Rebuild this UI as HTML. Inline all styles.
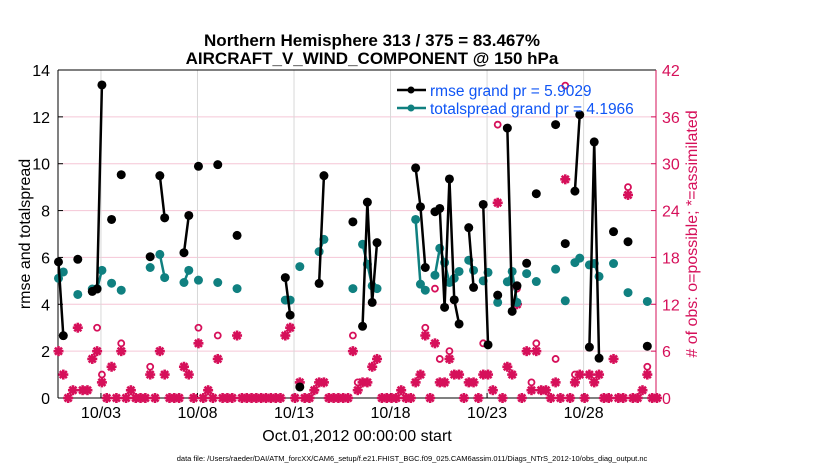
<!DOCTYPE html>
<html><head><meta charset="utf-8">
<style>
body{margin:0;background:#fff;}
svg text{font-family:"Liberation Sans",Arial,sans-serif;}
</style></head>
<body>
<svg id="chart" width="830" height="470" xmlns="http://www.w3.org/2000/svg">
<text x="372" y="46" font-size="17" font-weight="bold" text-anchor="middle">Northern Hemisphere 313 / 375 = 83.467%</text>
<text x="372" y="64" font-size="17" font-weight="bold" text-anchor="middle">AIRCRAFT_V_WIND_COMPONENT @ 150 hPa</text>
<g id="grid"></g>
<g id="axes"></g>
<g id="marks"></g>
<text transform="translate(30,234) rotate(-90)" font-size="16" text-anchor="middle">rmse and totalspread</text>
<text transform="translate(697,234) rotate(-90)" font-size="16" fill="#d6105a" text-anchor="middle"># of obs: o=possible; *=assimilated</text>
<text x="357" y="441" font-size="16" text-anchor="middle">Oct.01,2012 00:00:00 start</text>
<text x="412" y="461" font-size="7.5" text-anchor="middle">data file: /Users/raeder/DAI/ATM_forcXX/CAM6_setup/f.e21.FHIST_BGC.f09_025.CAM6assim.011/Diags_NTrS_2012-10/obs_diag_output.nc</text>
<g id="marksLegend">
<line x1="397" y1="90" x2="426" y2="90" stroke="#000" stroke-width="2.5"/>
<circle cx="411" cy="90" r="3.5" fill="#000"/>
<text x="430" y="96" font-size="15.5" fill="#0f55f5">rmse grand pr = 5.9029</text>
<line x1="397" y1="108" x2="426" y2="108" stroke="#108080" stroke-width="2.5"/>
<circle cx="411" cy="108" r="3.5" fill="#108080"/>
<text x="430" y="114" font-size="15.5" fill="#0f55f5">totalspread grand pr = 4.1966</text>
</g>
</svg>
<script>
const rmseIdx = [0,1,4,7,8,9,11,13,19,21,22,26,27,29,33,37,47,48,50,54,55,61,63,64,65,66,74,75,76,78,79,80,81,82,83,85,86,88,89,91,93,94,95,97,99,103,105,107,108,110,111,112,115,118,122];
const rmseVal = [5.81,2.66,5.92,4.55,4.65,13.36,7.62,9.53,6.03,9.49,7.69,6.2,7.79,9.89,9.96,6.94,5.14,3.54,0.47,4.89,9.49,7.52,3.06,8.36,4.08,6.63,9.82,8.16,5.57,7.95,8.09,3.87,9.35,4.19,3.16,7.27,4.72,8.26,2.27,4.39,11.52,3.7,4.79,5.75,8.72,11.67,6.59,8.83,12.09,2.17,10.93,1.7,7.1,6.67,2.21];
const spreadVal = [5.11,5.38,4.42,4.65,4.67,5.45,4.9,4.6,5.57,6.13,5.14,4.93,5.45,5.03,4.93,4.67,4.18,4.18,5.61,6.25,6.77,4.67,6.56,5.71,4.79,4.67,7.62,4.86,4.6,5.24,6.39,5.78,4.93,5.11,5.4,5.88,5.45,5.0,5.36,4.08,4.96,5.4,4.08,5.31,4.97,5.5,4.15,5.78,5.97,5.68,5.74,5.19,5.74,4.5,4.12];
const obsAssim = [6,3,0,1,9,1,1,5,6,2,0,4,0,6,0,1,0,0,0,3,0,6,3,0,0,0,4,3,0,7,0,1,0,5,0,0,0,8,0,0,0,0,0,0,0,0,0,8,9,0,2,0,0,1,2,2,0,0,0,0,0,6,1,2,2,4,5,0,0,0,0,1,0,0,2,3,8,0,7,2,2,5,3,3,0,2,2,0,3,3,1,25,0,4,3,12,0,6,1,6,1,1,0,2,0,28,0,2,3,0,3,2,3,0,0,5,0,0,26,0,0,1,3,0,0];
const obsPoss  = [6,3,0,1,9,1,1,5,9,3,0,4,0,7,0,1,0,0,0,4,0,6,3,0,0,0,4,3,0,9,0,1,0,8,0,0,0,8,0,0,0,0,0,0,0,0,0,8,9,0,2,0,0,1,2,2,0,0,0,0,0,8,2,2,2,4,5,0,0,0,0,1,0,0,2,3,9,0,14,5,2,6,3,3,0,2,2,0,7,3,1,35,0,4,3,14,0,6,2,7,1,1,0,5,0,40,0,3,3,0,3,2,3,0,0,5,0,0,27,0,0,1,4,0,0];
const dateTicks = ['10/03','10/08','10/13','10/18','10/23','10/28'];
const dateTickDays = [3,8,13,18,23,28];
const yTicks = [0,2,4,6,8,10,12,14];
const y2Ticks = [0,6,12,18,24,30,36,42];

const NS='http://www.w3.org/2000/svg';
const L=58,R=656,T=70,B=398;
const xS=i=>L+(i+0.1)/(123.9)*(R-L);
const dayToIdx=d=>(d-1)*4+0.8;
const yS=v=>B-v/14*(B-T);
const y2S=v=>B-v/42*(B-T);
const RED='#d6105a',TEAL='#108080';
function mk(tag,attrs,parent){const e=document.createElementNS(NS,tag);for(const k in attrs)e.setAttribute(k,attrs[k]);parent.appendChild(e);return e;}
const grid=document.getElementById('grid'),axes=document.getElementById('axes'),marks=document.getElementById('marks');

yTicks.forEach(v=>{ if(v>0&&v<14){const g=mk('line',{x1:L,x2:R,y1:yS(v),y2:yS(v),stroke:'#f5c6d6','stroke-width':1},grid);

}
const t=mk('text',{x:L-8,y:yS(v)+6,'font-size':16,'text-anchor':'end'},axes);t.textContent=v;


mk('line',{x1:L,x2:L+5,y1:yS(v),y2:yS(v),stroke:'#000'},axes);});
y2Ticks.forEach(v=>{const t=mk('text',{x:R+6,y:y2S(v)+6,'font-size':16,fill:RED},axes);t.textContent=v;


mk('line',{x1:R-5,x2:R,y1:y2S(v),y2:y2S(v),stroke:RED},axes);});
dateTicks.forEach((lab,k)=>{const x=xS(dayToIdx(dateTickDays[k]));
const g=mk('line',{x1:x,x2:x,y1:T,y2:B,stroke:'#d8d8d8'},grid);


mk('line',{x1:x,x2:x,y1:B,y2:B-5,stroke:'#000'},axes);
const t=mk('text',{x:x,y:B+20,'font-size':16,'text-anchor':'middle'},axes);t.textContent=lab;

});
mk('line',{x1:L,x2:R,y1:T,y2:T,stroke:'#000'},axes);
mk('line',{x1:L,x2:L,y1:T,y2:B,stroke:'#000'},axes);
mk('line',{x1:L,x2:R,y1:B,y2:B,stroke:'#000'},axes);
mk('line',{x1:R,x2:R,y1:T,y2:B,stroke:RED},axes);

obsPoss.forEach((v,i)=>{ if(v!==obsAssim[i]){const c=mk('circle',{cx:xS(i),cy:y2S(v),r:3,fill:'none',stroke:RED,'stroke-width':1.8},marks);

}});
obsAssim.forEach((v,i)=>{const x=xS(i),y=y2S(v);const g=mk('g',{},marks);


for(let a=0;a<4;a++){const an=a*Math.PI/4;mk('line',{x1:x-5*Math.cos(an),y1:y-5*Math.sin(an),x2:x+5*Math.cos(an),y2:y+5*Math.sin(an),stroke:RED,'stroke-width':2.6},g);}
mk('circle',{cx:x,cy:y,r:2,fill:RED},g);});

function series(vals,color,name){
 let d='';
 rmseIdx.forEach((idx,k)=>{const p=xS(idx)+','+yS(vals[k]);d+=(k>0&&rmseIdx[k-1]===idx-1)?' L'+p:' M'+p;});
 const path=mk('path',{d:d,fill:'none',stroke:color,'stroke-width':2.5},marks);
 
 
 rmseIdx.forEach((idx,k)=>{const c=mk('circle',{cx:xS(idx),cy:yS(vals[k]),r:4.5,fill:color},marks);
 
 });
}
series(spreadVal,TEAL,'totalspread');
series(rmseVal,'#000','rmse');
</script>
</body></html>
